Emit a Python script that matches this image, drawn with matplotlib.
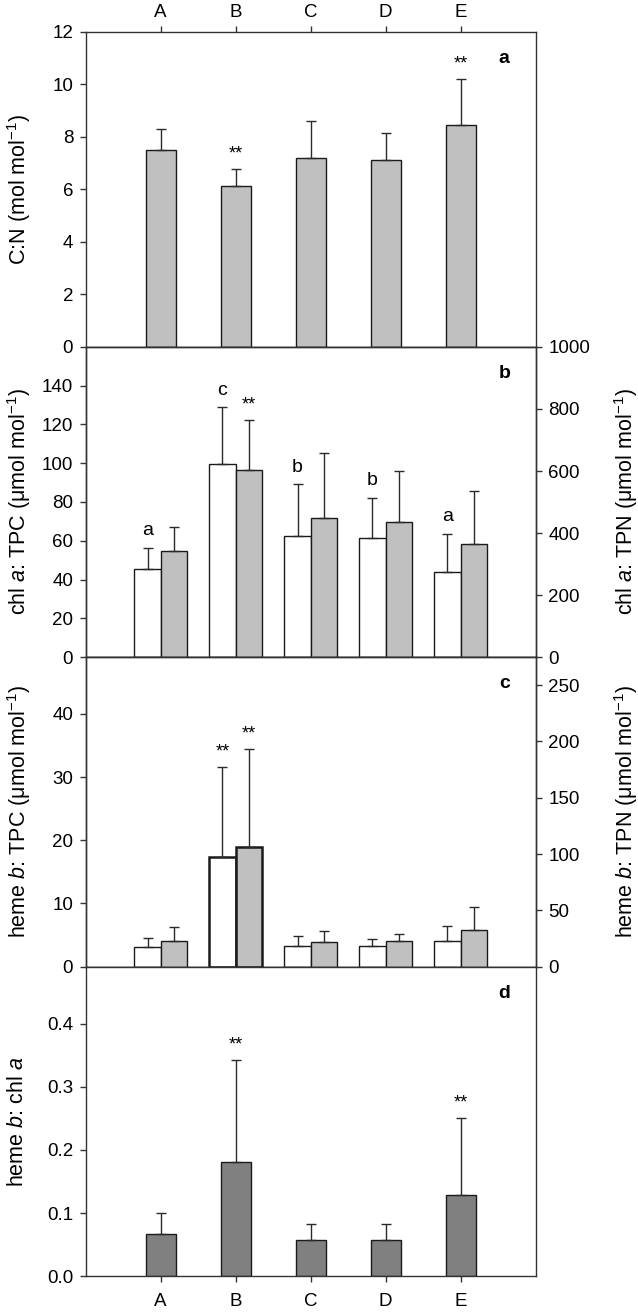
import matplotlib
matplotlib.use('Agg')
import matplotlib.pyplot as plt
import numpy as np

plt.rcParams['font.family'] = ['Liberation Sans', 'DejaVu Sans']
plt.rcParams['mathtext.fontset'] = 'custom'
plt.rcParams['mathtext.rm'] = 'Liberation Sans'
plt.rcParams['mathtext.it'] = 'Liberation Sans:italic'
plt.rcParams['mathtext.bf'] = 'Liberation Sans:bold'

# ---------------- data ----------------
categories = ['A', 'B', 'C', 'D', 'E']

cn_mean = [7.50, 6.14, 7.18, 7.10, 8.44]
cn_err = [0.81, 0.62, 1.43, 1.03, 1.77]
cn_sig = ['', '**', '', '', '**']

chl_tpc_mean = [45.5, 99.7, 62.5, 61.4, 44.0]
chl_tpc_err = [10.8, 29.3, 26.7, 20.9, 19.5]
chl_tpc_letters = ['a', 'c', 'b', 'b', 'a']
chl_tpn_mean = [341, 603, 450, 437, 365]
chl_tpn_err = [79, 162, 208, 162, 171]
chl_tpn_sig = ['', '**', '', '', '']

heme_tpc_mean = [3.07, 17.4, 3.28, 3.28, 4.07]
heme_tpc_err = [1.53, 14.2, 1.59, 1.11, 2.43]
heme_tpc_sig = ['', '**', '', '', '']
heme_tpn_mean = [23.1, 106.2, 22.2, 22.5, 32.8]
heme_tpn_err = [11.9, 87.0, 9.5, 6.5, 20.2]
heme_tpn_sig = ['', '**', '', '', '']

ratio_mean = [0.067, 0.181, 0.057, 0.058, 0.128]
ratio_err = [0.033, 0.162, 0.026, 0.024, 0.123]
ratio_sig = ['', '**', '', '', '**']

# ---------------- style ----------------
W, H = 638, 1312
LIGHT = '#c0c0c0'
DARK = '#808080'
EDGE = '#1a1a1a'
ECOL = '#2a2a2a'
SPINE = '#333333'
TICK_FS = 13.5
LAB_FS = 15.5

fig = plt.figure(figsize=(W / 100, H / 100), dpi=100)


def rect(top_px, bottom_px):
    return [85.7 / W, 1 - bottom_px / H, 450 / W, (bottom_px - top_px) / H]


x = np.arange(len(categories))


def style_axis(ax):
    for s in ax.spines.values():
        s.set_color(SPINE)
        s.set_linewidth(1.0)
    ax.tick_params(axis='y', direction='out', length=4, width=1, color=SPINE,
                   labelsize=TICK_FS, pad=5)
    ax.set_xlim(-1, 5)


def bars(ax, xpos, mean, err, color, width):
    b = ax.bar(xpos, mean, width=width, color=color, edgecolor=EDGE,
               linewidth=1.0, zorder=2)
    n = len(mean)
    ax.errorbar(xpos, mean, yerr=[np.zeros(n), err], fmt='none', ecolor=ECOL,
                elinewidth=1.0, capsize=3.3, capthick=1.0, zorder=3)
    return b


def marks(ax, xpos, mean, err, texts, offset, fs):
    for xi, m, e, t in zip(xpos, mean, err, texts):
        if t:
            ax.annotate(t, (xi, m + e), xytext=(0, offset),
                        textcoords='offset points', ha='center',
                        va='baseline', fontsize=fs, zorder=4)


def panel_letter(ax, t):
    ax.text(0.93, 0.915, t, transform=ax.transAxes, ha='center', va='center',
            fontsize=14, fontweight='bold')


# ---------- panel a ----------
axA = fig.add_axes(rect(31.7, 347))
style_axis(axA)
bars(axA, x, cn_mean, cn_err, LIGHT, 0.4)
marks(axA, x, cn_mean, cn_err, cn_sig, 7.5, 13)
axA.set_ylim(0, 12)
axA.set_yticks(np.arange(0, 13, 2))
axA.set_xticks(x)
axA.set_xticklabels(categories)
axA.tick_params(axis='x', top=True, bottom=False, labeltop=True,
                labelbottom=False, direction='out', length=4, width=1,
                color=SPINE, labelsize=TICK_FS, pad=4)
panel_letter(axA, 'a')

# ---------- panel b ----------
axB = fig.add_axes(rect(347, 657))
style_axis(axB)
axBr = axB.twinx()
style_axis(axBr)
bw = 0.352
bars(axB, x - bw / 2, chl_tpc_mean, chl_tpc_err, 'white', bw)
bars(axBr, x + bw / 2, chl_tpn_mean, chl_tpn_err, LIGHT, bw)
marks(axB, x - bw / 2, chl_tpc_mean, chl_tpc_err, chl_tpc_letters, 9, 14)
marks(axBr, x + bw / 2, chl_tpn_mean, chl_tpn_err, chl_tpn_sig, 7.5, 13)
axB.set_ylim(0, 160)
axB.set_yticks(np.arange(0, 141, 20))
axBr.set_ylim(0, 1000)
axBr.set_yticks(np.arange(0, 1001, 200))
for a in (axB, axBr):
    a.tick_params(axis='x', bottom=False, top=False, labelbottom=False,
                  labeltop=False)
panel_letter(axBr, 'b')

# ---------- panel c ----------
axC = fig.add_axes(rect(657, 966.7))
style_axis(axC)
axCr = axC.twinx()
style_axis(axCr)
bC1 = bars(axC, x - bw / 2, heme_tpc_mean, heme_tpc_err, 'white', bw)
bC2 = bars(axCr, x + bw / 2, heme_tpn_mean, heme_tpn_err, LIGHT, bw)
bC1[1].set_linewidth(1.8)
bC2[1].set_linewidth(1.8)
marks(axC, x - bw / 2, heme_tpc_mean, heme_tpc_err, heme_tpc_sig, 7.5, 13)
marks(axCr, x + bw / 2, heme_tpn_mean, heme_tpn_err, heme_tpn_sig, 7.5, 13)
axC.set_ylim(0, 49)
axC.set_yticks(np.arange(0, 41, 10))
axCr.set_ylim(0, 275)
axCr.set_yticks(np.arange(0, 251, 50))
for a in (axC, axCr):
    a.tick_params(axis='x', bottom=False, top=False, labelbottom=False,
                  labeltop=False)
panel_letter(axCr, 'c')

# ---------- panel d ----------
axD = fig.add_axes(rect(966.7, 1276.3))
style_axis(axD)
bars(axD, x, ratio_mean, ratio_err, DARK, 0.4)
marks(axD, x, ratio_mean, ratio_err, ratio_sig, 7.5, 13)
axD.set_ylim(0, 0.49)
axD.set_yticks(np.arange(0, 0.41, 0.1))
axD.set_yticklabels([f'{v:.1f}' for v in np.arange(0, 0.41, 0.1)])
axD.set_xticks(x)
axD.set_xticklabels(categories)
axD.tick_params(axis='x', top=False, bottom=True, direction='out', length=4,
                width=1, color=SPINE, labelsize=TICK_FS, pad=8)
panel_letter(axD, 'd')

# ---------- axis labels ----------
def ylab(xpx, top_px, bottom_px, text):
    fig.text(xpx / W, 1 - (top_px + bottom_px) / 2 / H, text, rotation=90,
             ha='center', va='center', fontsize=LAB_FS)


ylab(19.5, 31.7, 347, 'C:N (mol mol$^{-1}$)')
ylab(19.5, 347, 657, 'chl $a$: TPC (μmol mol$^{-1}$)')
ylab(626, 347, 657, 'chl $a$: TPN (μmol mol$^{-1}$)')
ylab(19.5, 657, 966.7, 'heme $b$: TPC (μmol mol$^{-1}$)')
ylab(626, 657, 966.7, 'heme $b$: TPN (μmol mol$^{-1}$)')
ylab(18, 966.7, 1276.3, 'heme $b$: chl $a$')

fig.savefig('out.png', dpi=100)
